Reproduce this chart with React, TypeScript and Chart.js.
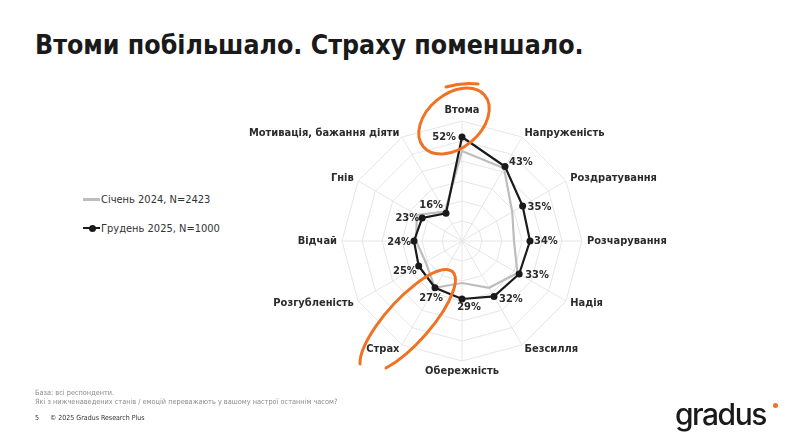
import React, { useEffect, useRef } from "react";
import { Chart, registerables } from "chart.js";

Chart.register(...registerables);

// ---- data ----
const categories = [
  "Втома",
  "Напруженість",
  "Роздратування",
  "Розчарування",
  "Надія",
  "Безсилля",
  "Обережність",
  "Страх",
  "Розгубленість",
  "Відчай",
  "Гнів",
  "Мотивація, бажання діяти",
];
const jan2024 = [45, 42, 29, 26, 32, 27, 21, 27, 21, 23, 26, 17];
const dec2025 = [52, 43, 35, 34, 33, 32, 29, 27, 25, 24, 23, 16];
const seriesNames = ["Січень 2024, N=2423", "Грудень 2025, N=1000"];
const scaleMin = 0;
const scaleMax = 60;
const scaleStep = 10;

// ---- styles ----
const FONT = "'DejaVu Sans Condensed', 'DejaVu Sans', sans-serif";
const LABEL_FONT = `bold 11px ${FONT}`;
const DARK = "#1a1a1a";
const GREY = "#bdbdbd";
const ORANGE = "#f07224";

// label placement for each value label: [align, dx, dy]
const valueLabelPlacement: [CanvasTextAlign, number, number][] = [
  ["right", -6, 0],
  ["left", 4, -4],
  ["left", 5, 1],
  ["left", 4, 0],
  ["left", 6, 1],
  ["left", 5, 3],
  ["center", 7, 8],
  ["center", -4, 10],
  ["right", -2, 5],
  ["right", -3, 1],
  ["right", -3, 0],
  ["right", -3, -8],
];

const pointLabelPlugin = {
  id: "customPointLabels",
  afterDraw(chart: any) {
    const scale = chart.scales.r;
    const ctx = chart.ctx as CanvasRenderingContext2D;
    const labels = chart.data.labels as string[];
    const n = labels.length;
    ctx.save();
    ctx.font = LABEL_FONT;
    ctx.fillStyle = "#2b2b2b";
    for (let i = 0; i < n; i++) {
      const pos = scale.getPointPosition(i, scale.drawingArea + 5);
      const deg = Math.round((i * 360) / n) % 360;
      let align: CanvasTextAlign = "left";
      let base: CanvasTextBaseline = "middle";
      if (deg === 0) {
        align = "center";
        base = "bottom";
      } else if (deg === 180) {
        align = "center";
        base = "top";
      } else if (deg > 180) {
        align = "right";
      }
      ctx.textAlign = align;
      ctx.textBaseline = base;
      ctx.fillText(labels[i], pos.x, pos.y);
    }
    ctx.restore();
  },
};

const valueLabelPlugin = {
  id: "valueLabels",
  afterDatasetsDraw(chart: any) {
    const ctx = chart.ctx as CanvasRenderingContext2D;
    const meta = chart.getDatasetMeta(1);
    const data = chart.data.datasets[1].data as number[];
    ctx.save();
    ctx.font = LABEL_FONT;
    ctx.fillStyle = "#2b2b2b";
    ctx.textBaseline = "middle";
    meta.data.forEach((pt: any, i: number) => {
      const [align, dx, dy] = valueLabelPlacement[i];
      ctx.textAlign = align;
      ctx.fillText(`${data[i]}%`, pt.x + dx, pt.y + dy);
    });
    ctx.restore();
  },
};

function RadarChart() {
  const ref = useRef<HTMLCanvasElement | null>(null);
  useEffect(() => {
    if (!ref.current) return;
    const chart = new Chart(ref.current, {
      type: "radar",
      data: {
        labels: categories,
        datasets: [
          {
            label: seriesNames[0],
            data: jan2024,
            borderColor: GREY,
            backgroundColor: "transparent",
            borderWidth: 2.2,
            pointRadius: 0,
            fill: false,
            order: 2,
          },
          {
            label: seriesNames[1],
            data: dec2025,
            borderColor: DARK,
            backgroundColor: "transparent",
            borderWidth: 2.2,
            pointRadius: 3.5,
            pointBackgroundColor: DARK,
            pointBorderWidth: 0,
            fill: false,
            order: 1,
          },
        ],
      },
      options: {
        responsive: false,
        maintainAspectRatio: false,
        animation: false,
        devicePixelRatio: 1,
        layout: { padding: { top: 30, bottom: 30, left: 0, right: 0 } },
        plugins: {
          legend: { display: false },
          tooltip: { enabled: false },
        },
        scales: {
          r: {
            min: scaleMin,
            max: scaleMax,
            ticks: { display: false, stepSize: scaleStep },
            grid: { color: "#e6e6e6", lineWidth: 1 },
            angleLines: { color: "#e6e6e6", lineWidth: 1 },
            pointLabels: { display: false },
          },
        },
      },
      plugins: [pointLabelPlugin, valueLabelPlugin],
    });
    return () => chart.destroy();
  }, []);
  return (
    <canvas
      ref={ref}
      width={520}
      height={300}
      style={{ position: "absolute", left: 202, top: 91, width: 520, height: 300 }}
    />
  );
}

export default function App() {
  return (
    <div
      style={{
        position: "absolute",
        left: 0,
        top: 0,
        width: 800,
        height: 447,
        background: "#fff",
        overflow: "hidden",
        fontFamily: FONT,
      }}
    >
      <div
        style={{
          position: "absolute",
          left: 35,
          top: 32,
          fontSize: 26.5,
          lineHeight: "26.5px",
          fontWeight: "bold",
          color: DARK,
          whiteSpace: "nowrap",
        }}
      >
        Втоми побільшало. Страху поменшало.
      </div>

      {/* legend */}
      <div style={{ position: "absolute", left: 83, top: 198, width: 17, height: 2.5, background: GREY }} />
      <div
        style={{ position: "absolute", left: 101, top: 194, fontSize: 11, lineHeight: "11px", color: "#333", whiteSpace: "nowrap" }}
      >
        {seriesNames[0]}
      </div>
      <div style={{ position: "absolute", left: 83, top: 226.5, width: 17, height: 2.5, background: DARK }} />
      <div
        style={{ position: "absolute", left: 88.5, top: 224.5, width: 7, height: 7, borderRadius: 4, background: DARK }}
      />
      <div
        style={{ position: "absolute", left: 101, top: 222.5, fontSize: 11, lineHeight: "11px", color: "#333", whiteSpace: "nowrap" }}
      >
        {seriesNames[1]}
      </div>

      <RadarChart />

      <svg
        width={800}
        height={447}
        style={{ position: "absolute", left: 0, top: 0, pointerEvents: "none" }}
      >
        <ellipse
          cx={454}
          cy={121}
          rx={40}
          ry={27}
          transform="rotate(-40 454 121)"
          fill="none"
          stroke={ORANGE}
          strokeWidth={3}
        />
        <path d="M 446 87 Q 462 82 478 84" fill="none" stroke={ORANGE} strokeWidth={3} strokeLinecap="round" />
        <path
          d="M 360 364 A 67 22 -48 1 1 386 368"
          fill="none"
          stroke={ORANGE}
          strokeWidth={3}
          strokeLinecap="round"
        />
      </svg>

      {/* footer */}
      <div style={{ position: "absolute", left: 35, top: 389, fontSize: 7.3, lineHeight: "7.3px", color: "#8c8c8c", whiteSpace: "nowrap" }}>
        База: всі респонденти.
      </div>
      <div style={{ position: "absolute", left: 35, top: 398, fontSize: 7.3, lineHeight: "7.3px", color: "#8c8c8c", whiteSpace: "nowrap" }}>
        Які з нижченаведених станів / емоцій переважають у вашому настрої останнім часом?
      </div>
      <div style={{ position: "absolute", left: 35, top: 415, fontSize: 7, lineHeight: "7px", color: "#333", whiteSpace: "nowrap" }}>
        5
      </div>
      <div style={{ position: "absolute", left: 50, top: 415, fontSize: 7, lineHeight: "7px", color: "#333", whiteSpace: "nowrap" }}>
        © 2025 Gradus Research Plus
      </div>

      {/* logo */}
      <div
        style={{
          position: "absolute",
          left: 675,
          top: 399,
          fontFamily: "Inter, sans-serif",
          fontSize: 30,
          lineHeight: "30px",
          fontWeight: 500,
          letterSpacing: -1.5,
          color: "#1a1a1a",
          whiteSpace: "nowrap",
        }}
      >
        gradus
      </div>
      <div style={{ position: "absolute", left: 773, top: 403, width: 5, height: 5, borderRadius: 3, background: ORANGE }} />
    </div>
  );
}
